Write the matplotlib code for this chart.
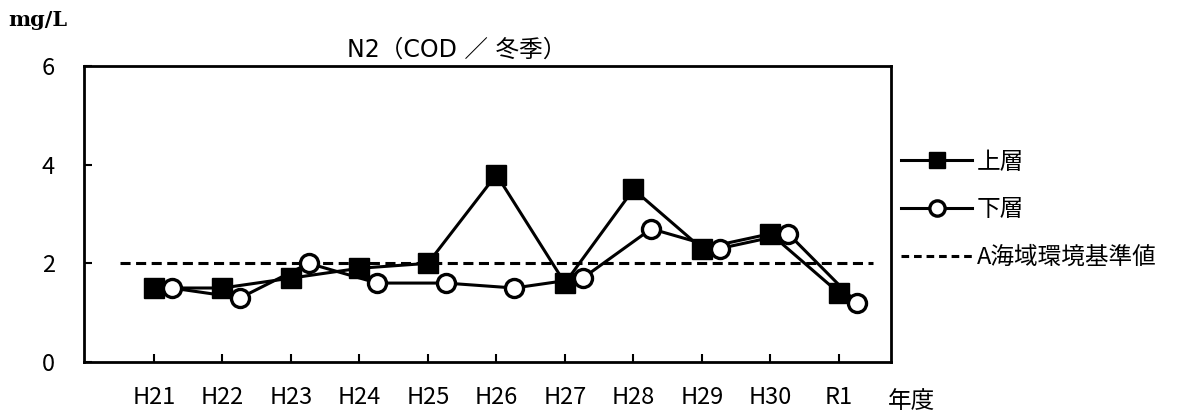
import matplotlib
matplotlib.use("Agg")
import matplotlib.pyplot as plt
from matplotlib.lines import Line2D

plt.rcParams['font.family'] = ['Noto Sans CJK JP', 'DejaVu Sans']

years = ["H21", "H22", "H23", "H24", "H25", "H26", "H27", "H28", "H29", "H30", "R1"]
upper = [1.5, 1.5, 1.7, 1.9, 2.0, 3.8, 1.6, 3.5, 2.3, 2.6, 1.4]
lower = [1.5, 1.3, 2.0, 1.6, 1.6, 1.5, 1.7, 2.7, 2.3, 2.6, 1.2]
standard = 2.0
yticks = [0, 2, 4, 6]

fig = plt.figure(figsize=(11.84, 4.17), dpi=100)
ax = fig.add_axes([84/1184, 1-362/417, (891-84)/1184, (362-66)/417])

x = list(range(len(years)))
xl = [v + 0.26 for v in x]

ax.plot([-0.5, len(years) - 0.5], [standard, standard], color='black', lw=2.2,
        ls=(0, (3.3, 1.8)), zorder=1)
ax.plot(x, upper, color='black', lw=2.2, marker='s', markersize=15,
        markerfacecolor='black', markeredgecolor='black', zorder=3)
ax.plot(xl, lower, color='black', lw=2.2, marker='o', markersize=13,
        markerfacecolor='white', markeredgecolor='black', markeredgewidth=2.4, zorder=4)

ax.set_xlim(-1.02, 10.76)
ax.set_ylim(0, 6)
ax.set_yticks(yticks)
ax.set_yticklabels([str(t) for t in yticks])
ax.set_xticks(x)
ax.set_xticklabels(years)
ax.tick_params(axis='both', direction='in', length=6, width=1.5, labelsize=17)
ax.tick_params(axis='y', pad=21)
ax.tick_params(axis='x', pad=17)
for s in ax.spines.values():
    s.set_linewidth(2)
    s.set_color('black')

fig.text(457/1184, 1-50/417, "N2（COD ／ 冬季）", ha='center', va='center',
         fontsize=17, family=['DejaVu Sans', 'Noto Sans CJK JP'])
fig.text(8/1184, 1-20/417, "mg/L", ha='left', va='center', fontsize=15,
         family=['DejaVu Serif'], fontweight='bold')
fig.text(888/1184, 1-401/417, "年度", ha='left', va='center', fontsize=17)

handles = [
    Line2D([], [], color='black', lw=2.2, marker='s', markersize=11.5,
           markerfacecolor='black'),
    Line2D([], [], color='black', lw=2.2, marker='o', markersize=11,
           markerfacecolor='white', markeredgewidth=2.4),
    Line2D([], [], color='black', lw=2.2, ls=(0, (2.5, 1.6))),
]
labels = ["上層", "下層", "A海域環境基準値"]
fig.legend(handles, labels, loc='center left', bbox_to_anchor=(892/1184, 1-210/417),
           frameon=False, fontsize=17, handlelength=3.0, handletextpad=0.2,
           labelspacing=1.05, borderaxespad=0)

fig.savefig("out.png", dpi=100)
